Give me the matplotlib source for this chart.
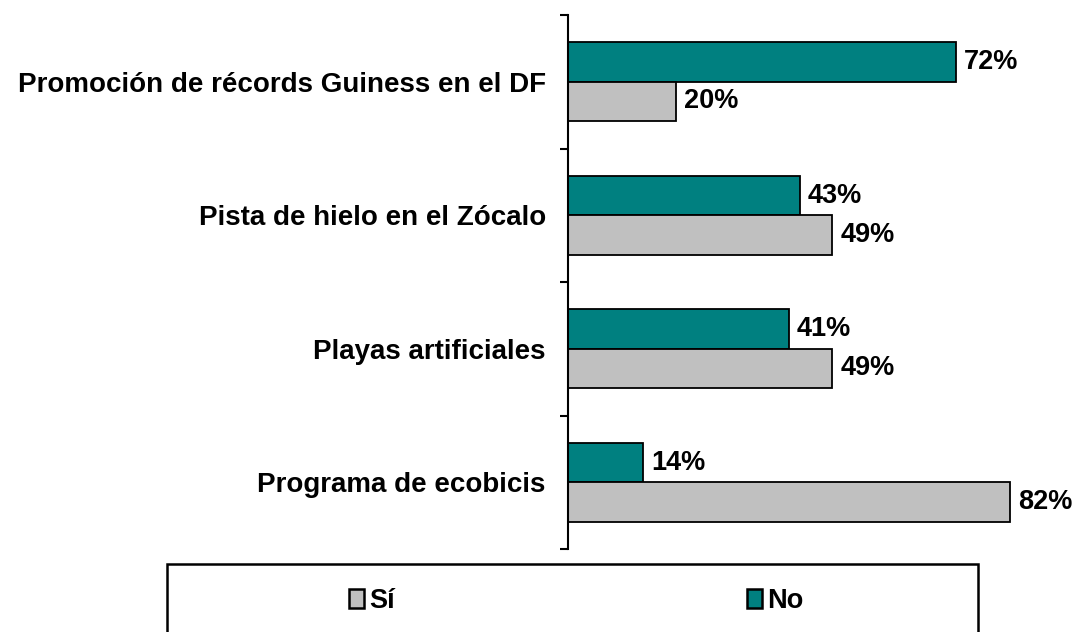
import matplotlib
matplotlib.use("Agg")
import matplotlib.pyplot as plt
from matplotlib.patches import Rectangle, Patch
import numpy as np

plt.rcParams['font.family'] = ['Liberation Sans', 'DejaVu Sans']

categories = ["Promoción de récords Guiness en el DF",
              "Pista de hielo en el Zócalo",
              "Playas artificiales",
              "Programa de ecobicis"]
si_values = [20, 49, 49, 82]
no_values = [72, 43, 41, 14]
series_labels = ["Sí", "No"]

W, H = 1075, 632
fig = plt.figure(figsize=(W / 100, H / 100), dpi=100)

ax_left, ax_right = 568, 1075
ax_top, ax_bottom = 15, 549
ax = fig.add_axes([ax_left / W, 1 - ax_bottom / H,
                   (ax_right - ax_left) / W, (ax_bottom - ax_top) / H])

gray = "#C0C0C0"
teal = "#008080"
y = np.arange(len(categories))
bh = 0.295
ax.barh(y - bh / 2, no_values, height=bh, color=teal, edgecolor="black", linewidth=1.3)
ax.barh(y + bh / 2, si_values, height=bh, color=gray, edgecolor="black", linewidth=1.3)

fs = 19.5
for yi, v in zip(y, no_values):
    ax.text(v + 1.5, yi - bh / 2, f"{v}%", va="center", ha="left",
            fontsize=fs, fontweight="bold")
for yi, v in zip(y, si_values):
    ax.text(v + 1.5, yi + bh / 2, f"{v}%", va="center", ha="left",
            fontsize=fs, fontweight="bold")

ax.set_xlim(0, (ax_right - ax_left) / 5.39)
ax.set_ylim(len(categories) - 0.5, -0.5)

ax.set_yticks(np.arange(-0.5, len(categories), 1.0))
ax.set_yticklabels([])
ax.set_yticks(y, minor=True)
ax.set_yticklabels(categories, minor=True, fontsize=20, fontweight="bold")
ax.tick_params(axis="y", which="major", length=6, width=1.5, direction="out")
ax.tick_params(axis="y", which="minor", length=0, pad=16)
ax.set_xticks([])

for s in ["top", "right", "bottom"]:
    ax.spines[s].set_visible(False)
ax.spines["left"].set_linewidth(1.5)
ax.patch.set_visible(False)

# legend box
fig.patches.append(Rectangle((167 / W, -0.01), (978 - 167) / W, 1 - 564 / H + 0.01,
                             transform=fig.transFigure, fill=False,
                             edgecolor="black", linewidth=1.8))
handles = [Patch(facecolor=gray, edgecolor="black", linewidth=1.8),
           Patch(facecolor=teal, edgecolor="black", linewidth=1.8)]
fig.legend(handles, series_labels, loc="center left",
           bbox_to_anchor=(349 / W, 1 - 601 / H), ncol=2, frameon=False,
           handlelength=0.55, handleheight=0.66, handletextpad=0.2,
           columnspacing=13.0, borderpad=0, borderaxespad=0,
           prop={"size": fs, "weight": "bold"})

fig.savefig("out.png", dpi=100)
